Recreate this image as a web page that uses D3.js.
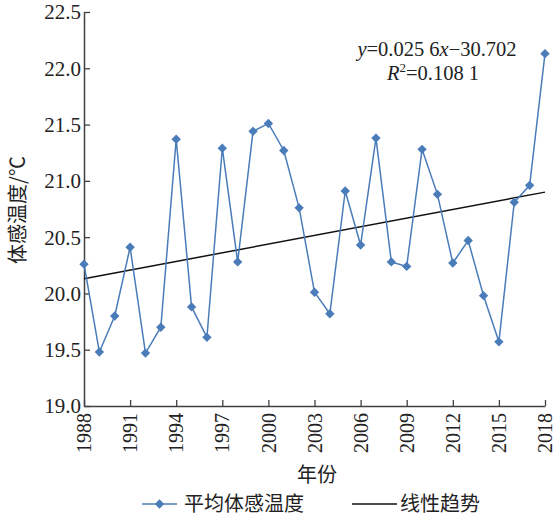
<!DOCTYPE html>
<html><head><meta charset="utf-8">
<script src="https://cdn.jsdelivr.net/npm/d3@7"></script>
<style>body{margin:0;background:#fff}</style>
</head><body>
<svg id="c" width="555" height="516"></svg>
<script>
const years = d3.range(1988, 2019);
const values = [20.26,19.48,19.80,20.41,19.47,19.70,21.37,19.88,19.61,21.29,20.28,21.44,21.51,21.27,20.76,20.01,19.82,20.91,20.43,21.38,20.28,20.24,21.28,20.88,20.27,20.47,19.98,19.57,20.81,20.96,22.13];
const trendYears = [1988, 2018];
const trendValues = [20.13, 20.90];
const xTicks = [1988,1991,1994,1997,2000,2003,2006,2009,2012,2015,2018];
const yTicks = [19.0,19.5,20.0,20.5,21.0,21.5,22.0,22.5];
const seriesName = "平均体感温度";
const trendName = "线性趋势";
const xTitle = "年份";
const yTitle = "体感温度/℃";

const svg = d3.select("#c");
const serif = "'Liberation Serif','Times New Roman',serif";
const cjk = "'Noto Sans CJK SC','Liberation Serif',serif";
const blue = "#4a7cba";
const axisColor = "#404040";

const x = d3.scaleLinear().domain([1988, 2018]).range([84, 545]);
const y = d3.scaleLinear().domain([19, 22.5]).range([406, 12]);

// axes
const yAxis = svg.append("g").attr("transform","translate(84,0)")
  .call(d3.axisLeft(y).tickValues(yTicks).tickFormat(d3.format(".1f")).tickSizeInner(-6).tickSizeOuter(0).tickPadding(3));
const xAxis = svg.append("g").attr("transform","translate(0,406)")
  .call(d3.axisBottom(x).tickValues(xTicks).tickFormat(d3.format("d")).tickSizeInner(-6).tickSizeOuter(0));
[yAxis, xAxis].forEach(g => {
  g.select(".domain").attr("stroke", axisColor).attr("stroke-width", 1.5);
  g.selectAll(".tick line").attr("stroke", axisColor).attr("stroke-width", 1.3);
  g.selectAll("text").attr("font-family", serif).attr("fill", "#222");
});
yAxis.selectAll("text").attr("font-size", 21).attr("dy", "0.33em");
xAxis.selectAll("text").attr("font-size", 20)
  .attr("transform", "rotate(-90)")
  .attr("text-anchor", "end")
  .attr("x", -7).attr("y", 0).attr("dy", "0.33em");

// trend
svg.append("path")
  .datum(trendYears.map((t,i)=>[t, trendValues[i]]))
  .attr("d", d3.line().x(d=>x(d[0])).y(d=>y(d[1])))
  .attr("stroke", "#111").attr("stroke-width", 1.5).attr("fill", "none");

// series
svg.append("path")
  .datum(years.map((t,i)=>[t, values[i]]))
  .attr("d", d3.line().x(d=>x(d[0])).y(d=>y(d[1])))
  .attr("stroke", blue).attr("stroke-width", 1.5).attr("fill", "none");

const diamond = d3.symbol().type(d3.symbolDiamond2).size(56);
svg.append("g").selectAll("path").data(years.map((t,i)=>[t, values[i]])).join("path")
  .attr("d", diamond)
  .attr("transform", d=>`translate(${x(d[0])},${y(d[1])})`)
  .attr("fill", blue);

// equation
const eq = svg.append("text").attr("x", 437).attr("y", 56).attr("text-anchor","middle")
  .attr("font-family", serif).attr("font-size", 20.5).attr("fill","#222");
eq.append("tspan").attr("font-style","italic").text("y");
eq.append("tspan").text("=0.025 6");
eq.append("tspan").attr("font-style","italic").text("x");
eq.append("tspan").text("\u221230.702");
const r2 = svg.append("text").attr("x", 433).attr("y", 80).attr("text-anchor","middle")
  .attr("font-family", serif).attr("font-size", 20.5).attr("fill","#222");
r2.append("tspan").attr("font-style","italic").text("R");
r2.append("tspan").attr("font-size", 13).attr("dy", -8).text("2");
r2.append("tspan").attr("dy", 8).text("=0.108 1");

// titles
svg.append("text").attr("x", 317).attr("y", 482).attr("text-anchor","middle")
  .attr("font-family", cjk).attr("font-size", 20).attr("fill","#222").text(xTitle);
svg.append("text").attr("transform","translate(25,210) rotate(-90)").attr("text-anchor","middle")
  .attr("font-family", cjk).attr("font-size", 20).attr("fill","#222").text(yTitle);

// legend
const ly = 504;
svg.append("line").attr("x1",142).attr("x2",177).attr("y1",ly).attr("y2",ly).attr("stroke",blue).attr("stroke-width",1.5);
svg.append("path").attr("d", diamond).attr("transform",`translate(159.5,${ly})`).attr("fill", blue);
svg.append("text").attr("x",184).attr("y",ly).attr("dy","0.35em").attr("font-family",cjk).attr("font-size",20).attr("fill","#222").text(seriesName);
svg.append("line").attr("x1",352).attr("x2",397).attr("y1",ly).attr("y2",ly).attr("stroke","#111").attr("stroke-width",1.5);
svg.append("text").attr("x",400).attr("y",ly).attr("dy","0.35em").attr("font-family",cjk).attr("font-size",20).attr("fill","#222").text(trendName);
</script>
</body></html>
